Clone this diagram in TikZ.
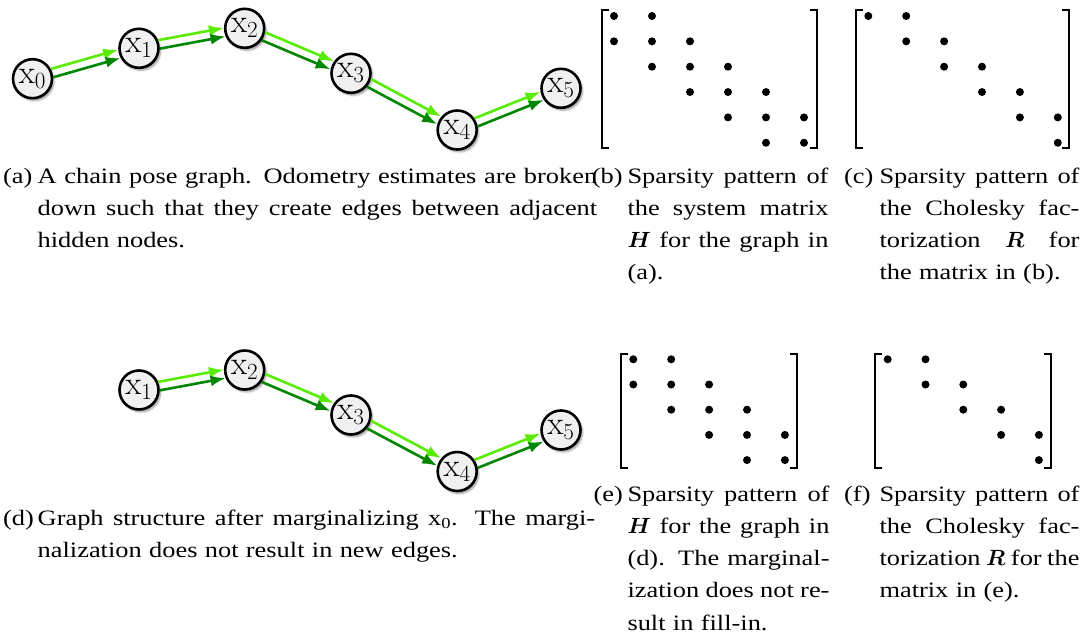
\documentclass[tikz,border=0pt]{standalone}
\usepackage{fix-cm}
\usepackage{amsmath}
\usepackage{amssymb}
\usepackage[no-math]{fontspec}
\setmainfont{Liberation Serif}[FakeStretch=1.2]
\usepackage{tikz}
\usetikzlibrary{arrows.meta,shadows.blur}

\definecolor{litegreen}{RGB}{90,236,0}
\definecolor{darkgreen}{RGB}{0,134,0}
\newcommand{\capfont}{\fontsize{22}{32.3}\selectfont}
\newcommand{\jl}[2]{{\spaceskip=0pt\xspaceskip=0pt\makebox[#1][s]{#2}}}

\begin{document}
\begin{tikzpicture}[x=1pt,y=1pt]
        \tikzstyle{every node}+=[inner sep=0pt]
        \tikzset{
          pose/.style={circle, draw=black, line width=2.6pt, fill=black!6, minimum size=39pt,
            font=\fontsize{33}{35}\selectfont,
            blur shadow={shadow xshift=2pt, shadow yshift=-2.5pt, shadow blur steps=6}},
          odo/.style={line width=2.6pt, -{Latex[length=15pt,width=11pt]}},
          lite/.style={odo, draw=litegreen},
          dark/.style={odo, draw=darkgreen},
          brk/.style={line width=2pt},
          captext/.style={anchor=base west, align=left, font=\capfont},
          caplabel/.style={anchor=base west, font=\capfont}
        }
        \useasboundingbox (0,0) rectangle (1088,-640);
        % chain pose graph (a)
        \node[pose] (a0) at (32.5,-78.7) {$\mathrm{x}_0$};
        \node[pose] (a1) at (139,-48.3) {$\mathrm{x}_1$};
        \node[pose] (a2) at (244.7,-28.3) {$\mathrm{x}_2$};
        \node[pose] (a3) at (351,-73.3) {$\mathrm{x}_3$};
        \node[pose] (a4) at (457.2,-130) {$\mathrm{x}_4$};
        \node[pose] (a5) at (561,-88.3) {$\mathrm{x}_5$};
        \draw[lite] (a0.28) -- (a1.184);
        \draw[dark] (a0.4) -- (a1.208);
        \draw[lite] (a1.23) -- (a2.179);
        \draw[dark] (a1.359) -- (a2.203);
        \draw[lite] (a2.349) -- (a3.145);
        \draw[dark] (a2.325) -- (a3.169);
        \draw[lite] (a3.344) -- (a4.140);
        \draw[dark] (a3.320) -- (a4.164);
        \draw[lite] (a4.34) -- (a5.190);
        \draw[dark] (a4.10) -- (a5.214);
        % graph (d), x0 marginalized
        \node[pose] (d1) at (139,-390) {$\mathrm{x}_1$};
        \node[pose] (d2) at (244.7,-370) {$\mathrm{x}_2$};
        \node[pose] (d3) at (351,-415) {$\mathrm{x}_3$};
        \node[pose] (d4) at (457.2,-471.5) {$\mathrm{x}_4$};
        \node[pose] (d5) at (561,-430) {$\mathrm{x}_5$};
        \draw[lite] (d1.23) -- (d2.179);
        \draw[dark] (d1.359) -- (d2.203);
        \draw[lite] (d2.349) -- (d3.145);
        \draw[dark] (d2.325) -- (d3.169);
        \draw[lite] (d3.344) -- (d4.140);
        \draw[dark] (d3.320) -- (d4.164);
        \draw[lite] (d4.34) -- (d5.190);
        \draw[dark] (d4.10) -- (d5.214);
        % sparsity patterns
        \draw[brk] (609,-10) -- (602,-10) -- (602,-148) -- (609,-148);
        \draw[brk] (810,-10) -- (817,-10) -- (817,-148) -- (810,-148);
        \foreach \r/\c in {1/1,1/2,2/1,2/2,2/3,3/2,3/3,3/4,4/3,4/4,4/5,5/4,5/5,5/6,6/5,6/6}
          \fill ({614+38*(\c-1)},{-16-25.35*(\r-1)}) circle (4);
        \draw[brk] (863,-10) -- (856,-10) -- (856,-148) -- (863,-148);
        \draw[brk] (1062,-10) -- (1069,-10) -- (1069,-148) -- (1062,-148);
        \foreach \r/\c in {1/1,1/2,2/2,2/3,3/3,3/4,4/4,4/5,5/5,5/6,6/6}
          \fill ({868.3+37.9*(\c-1)},{-16-25.35*(\r-1)}) circle (4);
        \draw[brk] (628,-353.5) -- (621,-353.5) -- (621,-467.5) -- (628,-467.5);
        \draw[brk] (790,-353.5) -- (797,-353.5) -- (797,-467.5) -- (790,-467.5);
        \foreach \r/\c in {1/1,1/2,2/1,2/2,2/3,3/2,3/3,3/4,4/3,4/4,4/5,5/4,5/5}
          \fill ({633.3+37.9*(\c-1)},{-359.3-25.2*(\r-1)}) circle (4);
        \draw[brk] (882,-353.5) -- (875,-353.5) -- (875,-467.5) -- (882,-467.5);
        \draw[brk] (1044,-353.5) -- (1051,-353.5) -- (1051,-467.5) -- (1044,-467.5);
        \foreach \r/\c in {1/1,1/2,2/2,2/3,3/3,3/4,4/4,4/5,5/5}
          \fill ({887.7+37.8*(\c-1)},{-359.3-25.2*(\r-1)}) circle (4);
        % captions
        \node[caplabel] (la) at (3,-183) {(a)};
        \node[captext, text width=559.5pt] (ca) at (37.5,-183) {\jl{559.5pt}{A chain pose graph. Odometry estimates are broken}\\
          \jl{559.5pt}{down such that they create edges between adjacent}\\ hidden nodes.};
        \node[caplabel] (lb) at (591.7,-183) {(b)};
        \node[captext, text width=201pt] (cb) at (627.3,-183) {\jl{201pt}{Sparsity pattern of}\\ \jl{201pt}{the system matrix}\\
          \jl{201pt}{$\boldsymbol{H}$ for the graph in}\\ (a).};
        \node[caplabel] (lc) at (844,-183) {(c)};
        \node[captext, text width=200pt] (cc) at (879.3,-183) {\jl{200pt}{Sparsity pattern of}\\ \jl{200pt}{the Cholesky fac-}\\
          \jl{200pt}{torization $\boldsymbol{R}$ for}\\ the matrix in (b).};
        \node[caplabel] (ld) at (3,-525) {(d)};
        \node[captext, text width=557.5pt] (cd) at (37.5,-525) {\jl{557.5pt}{Graph structure after marginalizing x\textsubscript{0}. The margi-}\\
          nalization does not result in new edges.};
        \node[caplabel] (le) at (593.3,-501) {(e)};
        \node[captext, text width=202pt] (ce) at (627.3,-501) {\jl{202pt}{Sparsity pattern of}\\ \jl{202pt}{$\boldsymbol{H}$ for the graph in}\\
          \jl{202pt}{(d). The marginal-}\\ \jl{202pt}{ization does not re-}\\ sult in fill-in.};
        \node[caplabel] (lf) at (844,-501) {(f)};
        \node[captext, text width=200pt] (cf) at (879.3,-501) {\jl{200pt}{Sparsity pattern of}\\ \jl{200pt}{the Cholesky fac-}\\
          \jl{200pt}{torization $\boldsymbol{R}$ for the}\\ matrix in (e).};
    \end{tikzpicture}
\end{document}
